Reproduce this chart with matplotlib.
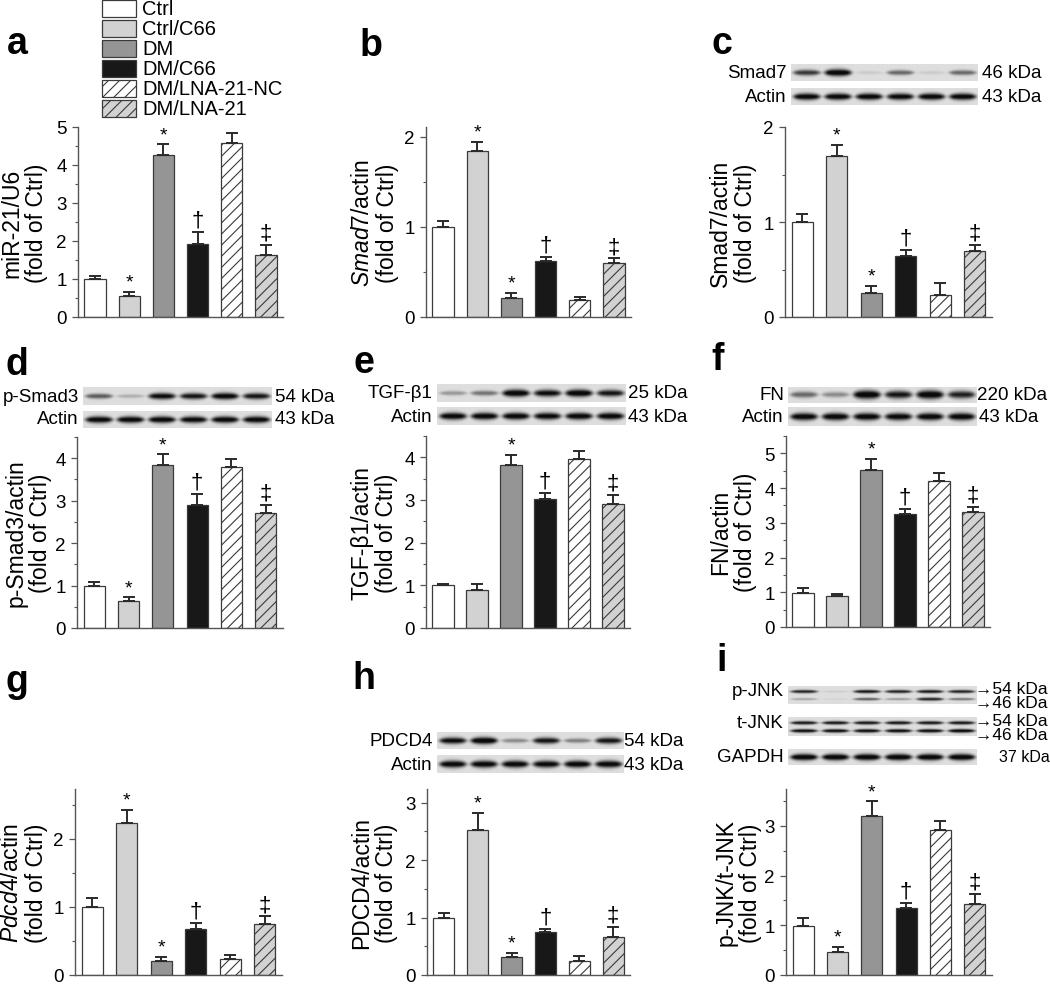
import numpy as np
import matplotlib
matplotlib.use('Agg')
from matplotlib import pyplot as plt
from matplotlib import patches as pat
from matplotlib.ticker import MultipleLocator

plt.rcParams['font.family'] = ['Liberation Sans', 'DejaVu Sans']
plt.rcParams['mathtext.fontset'] = 'custom'
plt.rcParams['mathtext.rm'] = 'Liberation Sans'
plt.rcParams['mathtext.it'] = 'Liberation Sans:italic'
plt.rcParams['hatch.linewidth'] = 0.8

# groups
groups = ['Ctrl', 'Ctrl/C66', 'DM', 'DM/C66', 'DM/LNA-21-NC', 'DM/LNA-21']
colors = ['white', '#d2d2d2', '#959595', '#181818', 'white', '#d2d2d2']
hatches = [None, None, None, None, '///', '///']

# bar values (mean, upper SEM)
mir21 = [1.0, 0.55, 4.26, 1.92, 4.59, 1.63]
mir21_err = [0.08, 0.12, 0.28, 0.31, 0.24, 0.27]
smad7_mrna = [1.0, 1.84, 0.21, 0.62, 0.19, 0.60]
smad7_mrna_err = [0.07, 0.10, 0.06, 0.05, 0.03, 0.05]
smad7_prot = [1.0, 1.70, 0.25, 0.64, 0.23, 0.69]
smad7_prot_err = [0.08, 0.11, 0.08, 0.07, 0.13, 0.07]
psmad3 = [1.0, 0.64, 3.84, 2.90, 3.79, 2.70]
psmad3_err = [0.08, 0.08, 0.25, 0.26, 0.19, 0.20]
tgfb1 = [1.0, 0.90, 3.82, 3.02, 3.97, 2.90]
tgfb1_err = [0.04, 0.14, 0.23, 0.15, 0.19, 0.22]
fn = [0.98, 0.88, 4.52, 3.25, 4.20, 3.32]
fn_err = [0.15, 0.07, 0.32, 0.16, 0.24, 0.13]
pdcd4_mrna = [1.0, 2.23, 0.20, 0.67, 0.23, 0.75]
pdcd4_mrna_err = [0.13, 0.19, 0.07, 0.10, 0.07, 0.11]
pdcd4_prot = [1.0, 2.53, 0.32, 0.75, 0.25, 0.67]
pdcd4_prot_err = [0.08, 0.29, 0.07, 0.05, 0.08, 0.16]
pjnk = [0.99, 0.46, 3.19, 1.35, 2.91, 1.43]
pjnk_err = [0.15, 0.10, 0.30, 0.10, 0.19, 0.20]

sig_full = ['', '*', '*', '†', '', '‡']
sig_dm = ['', '', '*', '†', '', '‡']

# western blot band intensities per lane (0 = none, 1 = saturated)
blot_smad7 = [0.7, 1.0, 0.08, 0.5, 0.08, 0.5]
blot_psmad3 = [0.55, 0.2, 0.9, 0.85, 0.95, 0.85]
blot_tgfb1 = [0.3, 0.45, 1.0, 0.9, 1.0, 0.85]
blot_fn = [0.5, 0.35, 1.0, 0.85, 1.0, 0.8]
blot_pdcd4 = [0.9, 1.0, 0.35, 0.85, 0.4, 0.85]
blot_actin = [0.95, 0.95, 0.95, 0.93, 0.95, 0.95]
blot_pjnk54 = [0.8, 0.08, 0.85, 0.8, 0.85, 0.8]
blot_pjnk46 = [0.25, 0.05, 0.55, 0.3, 0.8, 0.45]
blot_tjnk54 = [0.85, 0.85, 0.85, 0.85, 0.85, 0.85]
blot_tjnk46 = [0.9, 0.9, 0.9, 0.9, 0.9, 0.95]
blot_gapdh = [1.0, 1.0, 1.0, 1.0, 1.0, 1.0]

W, H = 1050, 987
fig = plt.figure(figsize=(W / 100, H / 100), dpi=100)
over = fig.add_axes([0, 0, 1, 1])
over.set_xlim(0, W)
over.set_ylim(H, 0)
over.axis('off')


def px_axes(l, r, b, t):
    return fig.add_axes([l / W, 1 - b / H, (r - l) / W, (b - t) / H])


def bar_panel(box, ytop, vals, errs, sig, ylabel, ylab_x, letter, letter_xy):
    ax = px_axes(*box)
    x = np.arange(len(vals))
    for i in x:
        ax.bar(i, vals[i], width=0.62, color=colors[i], hatch=hatches[i],
               edgecolor='#3a3a3a', linewidth=0.9, zorder=2)
    ax.errorbar(x, vals, yerr=[np.zeros(len(vals)), errs], fmt='none',
                ecolor='#2a2a2a', elinewidth=1.4, capsize=4.5, capthick=1.4, zorder=3)
    for i in x:
        if sig[i]:
            fs = 14 if sig[i] == '*' else 16
            ax.annotate(sig[i], (i, vals[i] + errs[i]), xytext=(0, 1),
                        textcoords='offset points', ha='center', va='bottom', fontsize=fs)
    ax.set_xlim(-0.5, 5.5)
    ax.set_ylim(0, ytop)
    ax.yaxis.set_major_locator(MultipleLocator(1))
    ax.yaxis.set_minor_locator(MultipleLocator(0.5))
    ax.set_xticks([])
    for s in ['top', 'right']:
        ax.spines[s].set_visible(False)
    for s in ['left', 'bottom']:
        ax.spines[s].set_color('#555555')
        ax.spines[s].set_linewidth(1.0)
    ax.tick_params(axis='y', which='major', length=4, width=0.9, color='#555555',
                   labelsize=13.5, pad=4)
    ax.tick_params(axis='y', which='minor', length=2.5, width=0.8, color='#555555')
    ax.patch.set_alpha(0)
    bl, br, bb, bt = box
    over.text(ylab_x, (bb + bt) / 2, ylabel, rotation=90, ha='center', va='center',
              fontsize=16.5, linespacing=1.1, multialignment='center')
    over.text(letter_xy[0], letter_xy[1], letter, fontsize=27, fontweight='bold',
              ha='center', va='center')
    return ax


def blot(l, r, t, b, bands, rows, thick):
    ax = px_axes(l, r, b, t)
    nh, nw = 60, 300
    img = np.full((nh, nw), 0.87)
    X, Y = np.meshgrid(np.arange(nw), np.arange(nh))
    lane = nw / 6
    for inten, row in zip(bands, rows):
        for i, v in enumerate(inten):
            cx = (i + 0.5) * lane
            d = ((X - cx) / (lane * 0.43)) ** 2
            sy = nh * thick * (0.55 + 0.65 * v) * np.clip(1 - 0.35 * d, 0.3, 1)
            band = np.exp(-((Y - row * nh) / sy) ** 2) * np.exp(-d ** 3)
            img -= v * 0.95 * band
    img = np.clip(img, 0.04, 1)
    ax.imshow(img, cmap='gray', vmin=0, vmax=1, aspect='auto', interpolation='bilinear')
    ax.axis('off')
    return ax


def blot_label(x, y, s, ha, fs=13.5):
    over.text(x, y, s, ha=ha, va='center', fontsize=fs)


# legend
for i, g in enumerate(groups):
    y0 = 1 + i * 20
    over.add_patch(pat.Rectangle((102, y0), 34, 17, facecolor=colors[i], hatch=hatches[i],
                                 edgecolor='#3a3a3a', linewidth=0.9))
    over.text(142, y0 + 8.5, g, ha='left', va='center', fontsize=14.5)

# row 1
bar_panel((78, 283, 318, 128), 5, mir21, mir21_err, sig_full,
          'miR-21/U6\n(fold of Ctrl)', 24, 'a', (17, 44))
bar_panel((426, 631, 318, 128), 2.11, smad7_mrna, smad7_mrna_err, sig_full,
          '$\\mathit{Smad7}$/actin\n(fold of Ctrl)', 375, 'b', (371, 46))
bar_panel((785, 992, 318, 128), 2, smad7_prot, smad7_prot_err, sig_full,
          'Smad7/actin\n(fold of Ctrl)', 733, 'c', (722, 44))
blot(791, 978, 65, 82, [blot_smad7], [0.5], 0.17)
blot(791, 978, 89, 106, [blot_actin], [0.5], 0.17)
blot_label(787, 73, 'Smad7', 'right')
blot_label(787, 97, 'Actin', 'right')
blot_label(982, 73, '46 kDa', 'left')
blot_label(982, 97, '43 kDa', 'left')

# row 2
bar_panel((77, 283, 629, 438), 4.5, psmad3, psmad3_err, sig_full,
          'p-Smad3/actin\n(fold of Ctrl)', 28, 'd', (17, 365))
blot(83, 272, 388, 406, [blot_psmad3], [0.5], 0.16)
blot(83, 272, 412, 429, [blot_actin], [0.5], 0.17)
blot_label(79, 397, 'p-Smad3', 'right')
blot_label(79, 420, 'Actin', 'right')
blot_label(275, 397, '54 kDa', 'left')
blot_label(275, 420, '43 kDa', 'left')

bar_panel((426, 630, 629, 437), 4.5, tgfb1, tgfb1_err, sig_dm,
          'TGF-β1/actin\n(fold of Ctrl)', 374, 'e', (364, 363))
blot(437, 626, 385, 403, [blot_tgfb1], [0.5], 0.17)
blot(437, 626, 408, 426, [blot_actin], [0.5], 0.17)
blot_label(433, 394, 'TGF-β1', 'right')
blot_label(433, 417, 'Actin', 'right')
blot_label(628, 394, '25 kDa', 'left')
blot_label(628, 417, '43 kDa', 'left')

bar_panel((786, 990, 628, 437), 5.5, fn, fn_err, sig_dm,
          'FN/actin\n(fold of Ctrl)', 733, 'f', (718, 360))
blot(788, 977, 388, 404, [blot_fn], [0.5], 0.21)
blot(788, 977, 408, 427, [blot_actin], [0.5], 0.17)
blot_label(784, 396, 'FN', 'right')
blot_label(784, 417, 'Actin', 'right')
blot_label(977, 396, '220 kDa', 'left')
blot_label(979, 417, '43 kDa', 'left')

# row 3
bar_panel((75, 282, 976, 790), 2.73, pdcd4_mrna, pdcd4_mrna_err, sig_full,
          '$\\mathit{Pdcd4}$/actin\n(fold of Ctrl)', 24, 'g', (17, 682))
bar_panel((427, 630, 976, 790), 3.24, pdcd4_prot, pdcd4_prot_err, sig_full,
          'PDCD4/actin\n(fold of Ctrl)', 374, 'h', (364, 679))
blot(437, 624, 733, 750, [blot_pdcd4], [0.5], 0.17)
blot(437, 624, 756, 774, [blot_actin], [0.5], 0.17)
blot_label(433, 741, 'PDCD4', 'right')
blot_label(433, 765, 'Actin', 'right')
blot_label(624, 741, '54 kDa', 'left')
blot_label(624, 765, '43 kDa', 'left')

bar_panel((786, 992, 976, 790), 3.74, pjnk, pjnk_err, sig_full,
          'p-JNK/t-JNK\n(fold of Ctrl)', 738, 'i', (722, 661))
blot(788, 977, 687, 705, [blot_pjnk54, blot_pjnk46], [0.3, 0.72], 0.085)
blot(788, 977, 718, 737, [blot_tjnk54, blot_tjnk46], [0.3, 0.72], 0.085)
blot(788, 977, 750, 766, [blot_gapdh], [0.5], 0.17)
blot_label(784, 692, 'p-JNK', 'right')
blot_label(784, 723, 't-JNK', 'right')
blot_label(784, 758, 'GAPDH', 'right')
blot_label(975, 690, '→54 kDa', 'left', 12.5)
blot_label(975, 703, '→46 kDa', 'left', 12.5)
blot_label(975, 722, '→54 kDa', 'left', 12.5)
blot_label(975, 735, '→46 kDa', 'left', 12.5)
blot_label(999, 758, '37 kDa', 'left', 11.5)

fig.savefig('out.png', dpi=100)
